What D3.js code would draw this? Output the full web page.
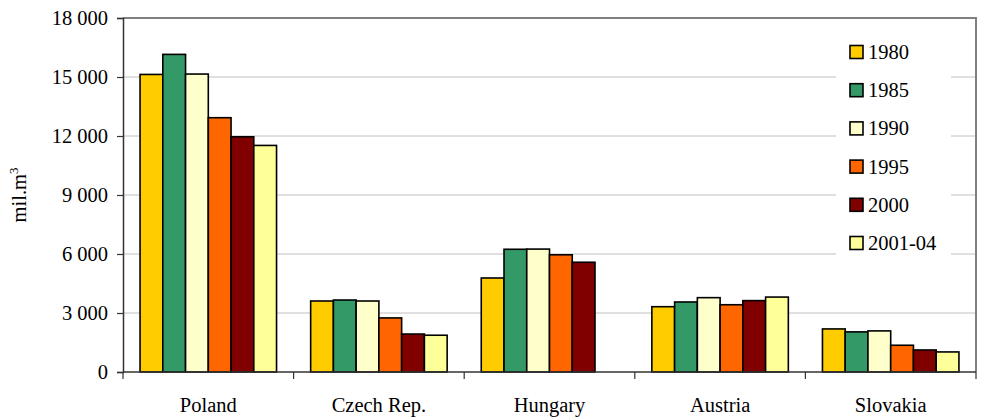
<!DOCTYPE html>
<html>
<head>
<meta charset="utf-8">
<script src="https://cdn.jsdelivr.net/npm/d3@7/dist/d3.min.js"></script>
<style>
  html, body { margin: 0; padding: 0; background: #fff; }
</style>
</head>
<body>
<svg id="chart" width="990" height="418"></svg>
<script>
// Water abstraction by country and period (mil. m3)
const countries = ["Poland", "Czech Rep.", "Hungary", "Austria", "Slovakia"];
const periods = ["1980", "1985", "1990", "1995", "2000", "2001-04"];
const periodColors = ["#FFCC00", "#339966", "#FFFFCC", "#FF6600", "#800000", "#FFFF99"];
const v1980 = [15130, 3610, 4780, 3320, 2190];
const v1985 = [16150, 3660, 6240, 3560, 2040];
const v1990 = [15150, 3610, 6250, 3780, 2090];
const v1995 = [12930, 2750, 5960, 3420, 1360];
const v2000 = [11960, 1930, 5580, 3630, 1120];
const v2001_04 = [11520, 1870, null, 3810, 1020];
const yTicks = [0, 3000, 6000, 9000, 12000, 15000, 18000];

const seriesValues = [v1980, v1985, v1990, v1995, v2000, v2001_04];
const FONT = '"Liberation Serif", "Times New Roman", serif';
const FS = 20.5;

const svg = d3.select("#chart");
const m = { left: 123, top: 18, right: 976, bottom: 372 };

const x0 = d3.scaleBand().domain(countries).range([m.left, m.right]);
// Each group holds 6 bars plus a gap of 1.5 bar widths, split evenly on both sides
const bw = x0.bandwidth() / 7.5;
const x1 = d3.scaleBand().domain(periods).range([bw * 0.75, bw * 6.75]);

const y = d3.scaleLinear().domain([0, 18000]).range([m.bottom, m.top]);
const fmt = v => d3.format(",")(v).replace(/,/g, " ");

// horizontal gridlines
svg.append("g")
  .selectAll("line")
  .data(yTicks.filter(t => t > 0 && t < 18000))
  .join("line")
  .attr("x1", m.left).attr("x2", m.right)
  .attr("y1", d => y(d)).attr("y2", d => y(d))
  .attr("stroke", "#c0c0c0").attr("stroke-width", 1);

// plot frame (top and right)
svg.append("path")
  .attr("d", `M${m.left},${m.top}H${m.right}V${m.bottom}`)
  .attr("fill", "none").attr("stroke", "#808080").attr("stroke-width", 2);

// bars
const rows = [];
countries.forEach((c, ci) => {
  periods.forEach((p, pi) => {
    const v = seriesValues[pi][ci];
    if (v != null) rows.push({ c, p, v, color: periodColors[pi] });
  });
});
svg.append("g")
  .selectAll("rect")
  .data(rows)
  .join("rect")
  .attr("x", d => x0(d.c) + x1(d.p))
  .attr("width", x1.bandwidth())
  .attr("y", d => y(d.v))
  .attr("height", d => y(0) - y(d.v))
  .attr("fill", d => d.color)
  .attr("stroke", "#000").attr("stroke-width", 1.6);

// y axis
const yAxis = svg.append("g")
  .attr("transform", `translate(${m.left},0)`)
  .call(d3.axisLeft(y).tickValues(yTicks).tickFormat(fmt).tickSize(6).tickPadding(9));
yAxis.select(".domain").attr("stroke", "#333").attr("stroke-width", 1.5);
yAxis.selectAll(".tick line").attr("stroke", "#333").attr("stroke-width", 1.2);
yAxis.selectAll("text").attr("font-size", FS).attr("fill", "#000")
  .style("font-family", FONT);

// x axis with category boundary ticks
const xAxisG = svg.append("g").attr("transform", `translate(0,${m.bottom})`);
xAxisG.append("line").attr("x1", m.left).attr("x2", m.right)
  .attr("stroke", "#333").attr("stroke-width", 1.5);
const bounds = countries.map(c => x0(c)).concat([m.right]);
xAxisG.selectAll("line.bt").data(bounds).join("line").attr("class", "bt")
  .attr("x1", d => d).attr("x2", d => d).attr("y1", 0).attr("y2", 7)
  .attr("stroke", "#333").attr("stroke-width", 1.2);
xAxisG.selectAll("text").data(countries).join("text")
  .attr("x", d => x0(d) + x0.bandwidth() / 2)
  .attr("y", 40)
  .attr("text-anchor", "middle")
  .attr("font-size", FS).attr("fill", "#000")
  .style("font-family", FONT)
  .text(d => d);

// y axis title
const yt = svg.append("text")
  .attr("transform", `translate(26,195) rotate(-90)`)
  .attr("text-anchor", "middle")
  .attr("font-size", FS).attr("fill", "#000")
  .style("font-family", FONT);
yt.append("tspan").text("mil.m");
yt.append("tspan").attr("dy", -8).attr("font-size", 13).text("3");

// legend
const lg = svg.append("g");
lg.append("rect").attr("x", 836).attr("y", 30).attr("width", 115).attr("height", 232).attr("fill", "#fff");
const items = lg.selectAll("g.item").data(periods).join("g").attr("class", "item")
  .attr("transform", (d, i) => `translate(850,${52 + i * 38.2})`);
items.append("rect")
  .attr("x", 0).attr("y", -6.5).attr("width", 13).attr("height", 13)
  .attr("fill", (d, i) => periodColors[i])
  .attr("stroke", "#000").attr("stroke-width", 1.6);
items.append("text")
  .attr("x", 18).attr("y", 7)
  .attr("font-size", FS).attr("fill", "#000")
  .style("font-family", FONT)
  .text(d => d);
</script>
</body>
</html>
